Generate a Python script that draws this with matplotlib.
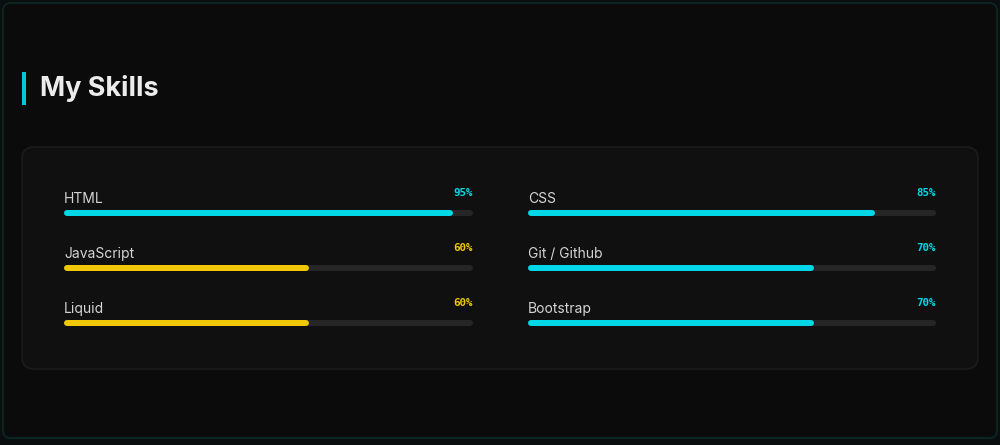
import matplotlib
import matplotlib.pyplot as plt
from matplotlib.patches import FancyBboxPatch, Rectangle

left_skills = ["HTML", "JavaScript", "Liquid"]
left_values = [95, 60, 60]
left_colors = ["#00d8e8", "#f0c808", "#f0c808"]

right_skills = ["CSS", "Git / Github", "Bootstrap"]
right_values = [85, 70, 70]
right_colors = ["#00d8e8", "#00d8e8", "#00d8e8"]

W, H = 1000, 445
fig = plt.figure(figsize=(W / 100, H / 100), dpi=100)
fig.patch.set_facecolor("#0a0e0e")

# background layer in pixel coordinates
bg = fig.add_axes([0, 0, 1, 1])
bg.set_xlim(0, W)
bg.set_ylim(H, 0)
bg.axis("off")
bg.add_patch(FancyBboxPatch((3, 3), W - 6, 435, boxstyle="round,pad=0,rounding_size=8",
                            fc="#0b0b0b", ec="#0d2424", lw=1.5))
bg.add_patch(FancyBboxPatch((22, 147), 956, 222, boxstyle="round,pad=0,rounding_size=12",
                            fc="#101010", ec="#1e1e1e", lw=1))
bg.add_patch(Rectangle((22, 72), 3.5, 33, fc="#00c8d8", ec="none"))
bg.text(40, 89, "My Skills", color="#ececec", fontsize=19.5, fontweight="bold",
        family=["Inter", "DejaVu Sans"], va="center", ha="left")


def skill_column(x0, width, skills, values, colors):
    ax = fig.add_axes([x0 / W, 1 - 350.5 / H, width / W, 165 / H])
    ax.set_xlim(0, 100)
    ax.set_ylim(2.5, -0.5)
    ax.axis("off")
    ax.patch.set_alpha(0)
    lw = 6 * 72 / 100
    cap = 3 / width * 100
    for i, (name, val, col) in enumerate(zip(skills, values, colors)):
        ax.plot([cap, 100 - cap], [i, i], color="#262626", lw=lw, solid_capstyle="round")
        ax.plot([cap, val - cap], [i, i], color=col, lw=lw, solid_capstyle="round")
        ax.annotate(name, (0, i), xytext=(0, 10.3), textcoords="offset points",
                    color="#d4d4d4", fontsize=10, family=["Inter", "DejaVu Sans"],
                    ha="left", va="center")
        ax.annotate(f"{val}%", (100, i), xytext=(0, 14.5), textcoords="offset points",
                    color=col, fontsize=7.8, fontweight="bold",
                    family=["DejaVu Sans Mono"], ha="right", va="center")
    return ax


skill_column(64, 409, left_skills, left_values, left_colors)
skill_column(528, 408, right_skills, right_values, right_colors)

plt.savefig("out.png", dpi=100, facecolor=fig.get_facecolor())
